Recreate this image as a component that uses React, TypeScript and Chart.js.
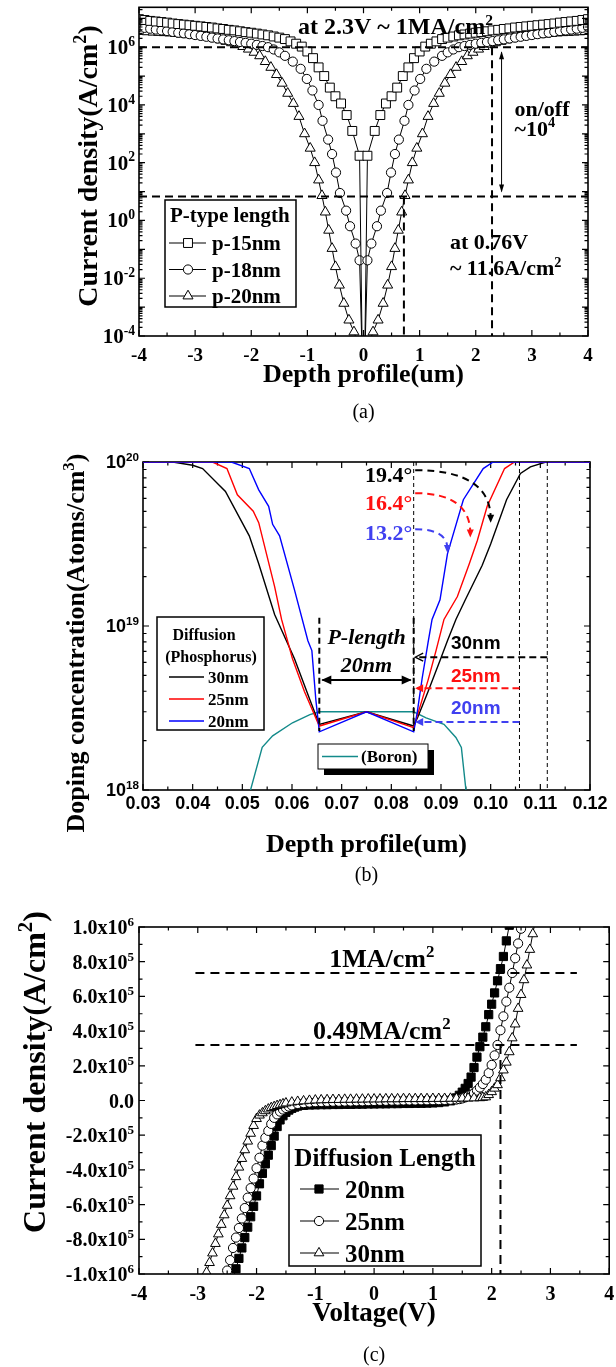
import React, { useEffect, useRef } from "react";
import { Chart, registerables } from "chart.js";

Chart.register(...registerables);

const SERIF = '"Liberation Serif", "Times New Roman", serif';
const SANS = '"Liberation Sans", Arial, sans-serif';

// ================= Panel (a): current density vs depth (symmetric profiles) =================
// positive-side depth (um) and log10(J); profile mirrored about 0
const aDepth15 = [0.02, 0.07, 0.2, 0.3, 0.4, 0.5, 0.6, 0.7, 0.8, 0.9, 1.0, 1.1, 1.2, 1.3, 1.4, 1.5, 1.6, 1.7, 1.8, 1.9, 2.0, 2.1, 2.2, 2.3, 2.4, 2.5, 2.6, 2.7, 2.8, 2.9, 3.0, 3.1, 3.2, 3.3, 3.4, 3.5, 3.6, 3.7, 3.8, 3.9, 4.0];
const aLog15 = [-5, 2.24, 3.1, 3.65, 4.05, 4.3, 4.6, 5.0, 5.3, 5.62, 5.85, 6.02, 6.12, 6.2, 6.28, 6.33, 6.37, 6.41, 6.44, 6.47, 6.5, 6.52, 6.55, 6.58, 6.6, 6.63, 6.65, 6.68, 6.7, 6.72, 6.74, 6.76, 6.78, 6.8, 6.82, 6.85, 6.87, 6.89, 6.91, 6.94, 6.97];
const aDepth18 = [0.02, 0.07, 0.14, 0.24, 0.31, 0.42, 0.49, 0.56, 0.63, 0.73, 0.8, 0.91, 1.01, 1.12, 1.26, 1.4, 1.5, 1.6, 1.7, 1.8, 1.9, 2.0, 2.1, 2.2, 2.3, 2.4, 2.5, 2.6, 2.7, 2.8, 2.9, 3.0, 3.1, 3.2, 3.3, 3.4, 3.5, 3.6, 3.7, 3.8, 3.9, 4.0];
const aLog18 = [-5, -1.38, -0.8, -0.2, 0.34, 0.95, 1.66, 2.3, 2.8, 3.45, 4.0, 4.5, 4.9, 5.25, 5.5, 5.7, 5.82, 5.92, 6.0, 6.04, 6.08, 6.12, 6.15, 6.18, 6.21, 6.24, 6.27, 6.3, 6.33, 6.36, 6.39, 6.42, 6.45, 6.48, 6.5, 6.53, 6.56, 6.58, 6.61, 6.64, 6.67, 6.7];
const aDepth20 = [0.02, 0.09, 0.17, 0.26, 0.35, 0.43, 0.5, 0.56, 0.62, 0.68, 0.74, 0.8, 0.87, 0.95, 1.05, 1.15, 1.25, 1.35, 1.45, 1.55, 1.65, 1.75, 1.85, 1.95, 2.05, 2.15, 2.25, 2.35, 2.45, 2.55, 2.65, 2.75, 2.85, 2.95, 3.05, 3.15, 3.25, 3.35, 3.45, 3.55, 3.65, 3.75, 3.85, 3.95];
const aLog20 = [-5, -4.3, -3.86, -3.45, -2.87, -2.24, -1.6, -0.97, -0.34, 0.29, 0.86, 1.4, 2.0, 2.5, 3.0, 3.6, 4.05, 4.4, 4.75, 5.05, 5.3, 5.5, 5.7, 5.82, 5.93, 6.02, 6.1, 6.15, 6.2, 6.25, 6.29, 6.33, 6.36, 6.39, 6.41, 6.43, 6.45, 6.47, 6.49, 6.5, 6.51, 6.52, 6.53, 6.54];
const aLabels = ["p-15nm", "p-18nm", "p-20nm"];
const aXTicks = [-4, -3, -2, -1, 0, 1, 2, 3, 4];
const aXMinor = [-3.5, -2.5, -1.5, -0.5, 0.5, 1.5, 2.5, 3.5];
const aYLabelExps = [-4, -2, 0, 2, 4, 6];
// annotation anchors (data units)
const aOnLog = 6;
const aOffLog = 0.83;
const aOnDepth = 2.29;
const aOffDepth = 0.72;
const aArrowDepth = 2.46;

// ================= Panel (b): doping profiles =================
const bX30 = [0.03, 0.036, 0.04, 0.042, 0.0466, 0.0514, 0.0533, 0.0565, 0.0605, 0.0636, 0.0655, 0.075, 0.0845, 0.0854, 0.0874, 0.0898, 0.0913, 0.093, 0.0949, 0.0983, 0.1, 0.1032, 0.106, 0.108, 0.1111, 0.12];
const bLog30 = [20, 20, 19.98, 19.96, 19.82, 19.55, 19.38, 19.07, 18.8, 18.55, 18.4, 18.477, 18.39, 18.45, 18.6, 18.79, 18.91, 19.04, 19.16, 19.37, 19.5, 19.77, 19.93, 19.97, 20, 20];
const bX25 = [0.03, 0.044, 0.0469, 0.049, 0.0522, 0.0533, 0.0565, 0.0579, 0.0601, 0.0625, 0.0655, 0.075, 0.0845, 0.0854, 0.0874, 0.089, 0.0906, 0.0933, 0.0957, 0.0973, 0.0993, 0.1028, 0.1048, 0.12];
const bLog25 = [20, 20, 19.96, 19.8, 19.7, 19.63, 19.24, 19.04, 18.8, 18.6, 18.39, 18.477, 18.38, 18.47, 18.67, 18.85, 19.04, 19.18, 19.38, 19.52, 19.73, 19.96, 20, 20];
const bX20 = [0.03, 0.0478, 0.0514, 0.0533, 0.0553, 0.0561, 0.0575, 0.0605, 0.0632, 0.064, 0.0648, 0.0655, 0.075, 0.0845, 0.0852, 0.0862, 0.0874, 0.0882, 0.0898, 0.0913, 0.0945, 0.0985, 0.1005, 0.12];
const bLog20 = [20, 20, 19.96, 19.83, 19.73, 19.62, 19.55, 19.22, 18.91, 18.85, 18.55, 18.355, 18.477, 18.355, 18.47, 18.68, 18.9, 19.04, 19.16, 19.44, 19.77, 19.96, 20, 20];
const bXBoron = [0.0512, 0.054, 0.0561, 0.0601, 0.0636, 0.0655, 0.0845, 0.087, 0.0906, 0.093, 0.0941, 0.0952];
const bLogBoron = [17.95, 18.26, 18.33, 18.41, 18.46, 18.477, 18.477, 18.44, 18.4, 18.32, 18.26, 17.95];
const bLabels = ["30nm", "25nm", "20nm"];
const bColors = ["#000000", "#ff0000", "#0000ff"];
const bXTicks = [0.03, 0.04, 0.05, 0.06, 0.07, 0.08, 0.09, 0.1, 0.11, 0.12];
const bXMinor = [0.035, 0.045, 0.055, 0.065, 0.075, 0.085, 0.095, 0.105, 0.115];
const bYLabelExps = [18, 19, 20];
const bPLeft = 0.0655;
const bPRight = 0.0845;
const bGuideX = [0.1058, 0.1114];
const bAngleText = ["19.4°", "16.4°", "13.2°"];
const bAngleColors = ["#000000", "#ff1010", "#4040f0"];
const bAngleTextLog = [19.92, 19.75, 19.57];
const bArcStartLog = [19.95, 19.81, 19.59];
const bArcEndX = [0.1, 0.0959, 0.0913];
const bArcEndLog = [19.63, 19.54, 19.445];
const bDiffFromX = [0.1114, 0.1058, 0.1058];
const bDiffLog = [18.81, 18.62, 18.415];
const bDiffTextLog = [18.9, 18.7, 18.506];

// ================= Panel (c): J-V curves (J in units of 1e5 A/cm^2) =================
const cV20 = [-2.4, -2.35, -2.3, -2.25, -2.2, -2.15, -2.1, -2.05, -2.0, -1.95, -1.9, -1.85, -1.8, -1.75, -1.7, -1.65, -1.6, -1.55, -1.5, -1.45, -1.4, -1.35, -1.3, -1.2, -1.1, -1.0, -0.9, -0.8, -0.7, -0.6, -0.5, -0.4, -0.3, -0.2, -0.1, 0, 0.1, 0.2, 0.3, 0.4, 0.5, 0.6, 0.7, 0.8, 0.9, 1.0, 1.1, 1.2, 1.3, 1.35, 1.4, 1.45, 1.5, 1.55, 1.6, 1.65, 1.7, 1.75, 1.8, 1.85, 1.9, 1.95, 2.0, 2.05, 2.1, 2.15, 2.2, 2.25, 2.3];
const cJ20 = [-10.3, -9.7, -9.1, -8.5, -7.9, -7.3, -6.7, -6.1, -5.5, -4.8, -4.2, -3.65, -3.15, -2.6, -2.05, -1.5, -1.12, -0.88, -0.68, -0.55, -0.45, -0.38, -0.32, -0.28, -0.26, -0.25, -0.24, -0.24, -0.23, -0.23, -0.22, -0.22, -0.21, -0.21, -0.2, -0.2, -0.19, -0.19, -0.18, -0.18, -0.17, -0.17, -0.16, -0.16, -0.15, -0.14, -0.12, -0.08, -0.02, 0.05, 0.15, 0.3, 0.48, 0.7, 0.98, 1.35, 1.9, 2.5, 3.1, 3.65, 4.25, 4.95, 5.55, 6.2, 6.9, 7.6, 8.3, 9.2, 10.1];
const cV25 = [-2.55, -2.5, -2.45, -2.4, -2.35, -2.3, -2.25, -2.2, -2.15, -2.1, -2.05, -2.0, -1.95, -1.9, -1.85, -1.8, -1.75, -1.7, -1.65, -1.6, -1.55, -1.5, -1.45, -1.4, -1.3, -1.2, -1.1, -1.0, -0.9, -0.8, -0.7, -0.6, -0.5, -0.4, -0.3, -0.2, -0.1, 0, 0.1, 0.2, 0.3, 0.4, 0.5, 0.6, 0.7, 0.8, 0.9, 1.0, 1.1, 1.2, 1.3, 1.4, 1.45, 1.5, 1.55, 1.6, 1.65, 1.7, 1.75, 1.8, 1.85, 1.9, 1.95, 2.0, 2.05, 2.1, 2.15, 2.2, 2.25, 2.3, 2.35, 2.4, 2.45, 2.5, 2.55];
const cJ25 = [-10.4, -9.8, -9.2, -8.5, -7.9, -7.35, -6.8, -6.2, -5.6, -5.05, -4.5, -3.9, -3.3, -2.6, -2.15, -1.75, -1.35, -1.0, -0.8, -0.64, -0.52, -0.43, -0.35, -0.28, -0.2, -0.15, -0.12, -0.1, -0.09, -0.08, -0.07, -0.07, -0.06, -0.06, -0.05, -0.05, -0.04, -0.03, -0.02, -0.02, -0.01, -0.01, 0, 0, 0, 0.01, 0.01, 0.02, 0.02, 0.03, 0.04, 0.06, 0.08, 0.12, 0.18, 0.25, 0.33, 0.43, 0.57, 0.75, 0.95, 1.2, 1.58, 2.05, 2.6, 3.2, 4.05, 4.85, 5.7, 6.5, 7.35, 8.2, 9.05, 9.9, 10.7];
const cV30 = [-2.9, -2.85, -2.8, -2.75, -2.7, -2.65, -2.6, -2.55, -2.5, -2.45, -2.4, -2.35, -2.3, -2.25, -2.2, -2.15, -2.1, -2.05, -2.0, -1.95, -1.9, -1.85, -1.8, -1.75, -1.7, -1.65, -1.6, -1.55, -1.5, -1.4, -1.3, -1.2, -1.1, -1.0, -0.9, -0.8, -0.7, -0.6, -0.5, -0.4, -0.3, -0.2, -0.1, 0, 0.1, 0.2, 0.3, 0.4, 0.5, 0.6, 0.7, 0.8, 0.9, 1.0, 1.1, 1.2, 1.3, 1.4, 1.5, 1.6, 1.7, 1.8, 1.85, 1.9, 1.95, 2.0, 2.05, 2.1, 2.15, 2.2, 2.25, 2.3, 2.35, 2.4, 2.45, 2.5, 2.55, 2.6, 2.65, 2.7, 2.75];
const cJ30 = [-10.45, -9.9, -9.35, -8.8, -8.25, -7.7, -7.15, -6.6, -6.05, -5.5, -4.95, -4.4, -3.85, -3.35, -2.85, -2.35, -1.9, -1.45, -1.05, -0.85, -0.72, -0.6, -0.5, -0.42, -0.36, -0.3, -0.25, -0.2, -0.15, -0.1, -0.06, -0.03, 0, 0.02, 0.03, 0.04, 0.05, 0.05, 0.06, 0.06, 0.07, 0.07, 0.08, 0.08, 0.08, 0.09, 0.09, 0.09, 0.1, 0.1, 0.1, 0.1, 0.1, 0.11, 0.11, 0.11, 0.12, 0.12, 0.13, 0.13, 0.14, 0.15, 0.17, 0.2, 0.33, 0.5, 0.7, 0.9, 1.3, 1.75, 2.2, 2.8, 3.6, 4.4, 5.3, 6.1, 6.95, 7.8, 8.7, 9.6, 10.5];
const cLabels = ["20nm", "25nm", "30nm"];
const cXTicks = [-4, -3, -2, -1, 0, 1, 2, 3, 4];
const cXMinor = [-3.5, -2.5, -1.5, -0.5, 0.5, 1.5, 2.5, 3.5];
const cYTickValues = [1e6, 8e5, 6e5, 4e5, 2e5, 0, -2e5, -4e5, -6e5, -8e5, -1e6];
const cYTickMantissa = ["1.0", "8.0", "6.0", "4.0", "2.0", "0.0", "-2.0", "-4.0", "-6.0", "-8.0", "-1.0"];
const cYTickExp = ["6", "5", "5", "5", "5", "", "5", "5", "5", "5", "6"];
const cYMinor = [9e5, 7e5, 5e5, 3e5, 1e5, -1e5, -3e5, -5e5, -7e5, -9e5];
const cLine1MA = 7.35e5;
const cLine049MA = 3.2e5;
const cLineFromV = -3.04;
const cLineToV = 3.45;
const cVertV = 2.15;

// ================= helpers =================
const mirrorLog = (d: number[], lg: number[]) => {
  const pts: any[] = [];
  for (let i = d.length - 1; i >= 0; i--) pts.push({ x: -d[i], y: Math.pow(10, lg[i]) });
  for (let i = 0; i < d.length; i++) pts.push({ x: d[i], y: Math.pow(10, lg[i]) });
  return pts;
};
const logPts = (xs: number[], lg: number[]) => xs.map((x, i) => ({ x, y: Math.pow(10, lg[i]) }));
const linPts = (xs: number[], js: number[]) => xs.map((x, i) => ({ x, y: js[i] * 1e5 }));

const logMinors = (lo: number, hi: number) => {
  const r: number[] = [];
  for (let n = lo; n <= hi; n++) for (let k = 2; k <= 9; k++) r.push(k * Math.pow(10, n));
  return r;
};
const decades = (lo: number, hi: number) => {
  const r: number[] = [];
  for (let n = lo; n <= hi; n++) r.push(Math.pow(10, n));
  return r;
};

type Part = { t: string; sup?: boolean };
const fnt = (size: number, family: string, weight = "bold", style = "normal") => `${style} ${weight} ${size}px ${family}`;

function rich(ctx: any, parts: Part[], x: number, y: number, size: number, family: string, align = "left", color = "#000", weight = "bold", style = "normal") {
  let w = 0;
  for (const p of parts) {
    ctx.font = fnt(p.sup ? size * 0.65 : size, family, weight, style);
    w += ctx.measureText(p.t).width;
  }
  let cx = align === "left" ? x : align === "center" ? x - w / 2 : x - w;
  ctx.save();
  ctx.fillStyle = color;
  ctx.textAlign = "left";
  ctx.textBaseline = "alphabetic";
  for (const p of parts) {
    ctx.font = fnt(p.sup ? size * 0.65 : size, family, weight, style);
    ctx.fillText(p.t, cx, p.sup ? y - size * 0.4 : y);
    cx += ctx.measureText(p.t).width;
  }
  ctx.restore();
}

function seg(ctx: any, x1: number, y1: number, x2: number, y2: number, w = 1, dash: number[] = [], color = "#000") {
  ctx.save();
  ctx.beginPath();
  ctx.setLineDash(dash);
  ctx.lineWidth = w;
  ctx.strokeStyle = color;
  ctx.moveTo(x1, y1);
  ctx.lineTo(x2, y2);
  ctx.stroke();
  ctx.restore();
}

function head(ctx: any, x: number, y: number, ang: number, len: number, half: number, color = "#000", filled = true) {
  const bx = x - Math.cos(ang) * len;
  const by = y - Math.sin(ang) * len;
  const px = -Math.sin(ang) * half;
  const py = Math.cos(ang) * half;
  ctx.save();
  ctx.setLineDash([]);
  ctx.beginPath();
  ctx.moveTo(bx + px, by + py);
  ctx.lineTo(x, y);
  ctx.lineTo(bx - px, by - py);
  if (filled) {
    ctx.closePath();
    ctx.fillStyle = color;
    ctx.fill();
  } else {
    ctx.strokeStyle = color;
    ctx.lineWidth = 1.3;
    ctx.stroke();
  }
  ctx.restore();
}

function marker(ctx: any, style: string, x: number, y: number, r: number, fill: string) {
  ctx.save();
  ctx.setLineDash([]);
  ctx.beginPath();
  ctx.lineWidth = 1;
  ctx.strokeStyle = "#000";
  ctx.fillStyle = fill;
  if (style === "rect") {
    const s = r * Math.SQRT1_2;
    ctx.rect(x - s, y - s, 2 * s, 2 * s);
  } else if (style === "circle") {
    ctx.arc(x, y, r, 0, Math.PI * 2);
  } else {
    for (let k = 0; k < 3; k++) {
      const a = (k * 2 * Math.PI) / 3;
      const px = x + Math.sin(a) * r;
      const py = y - Math.cos(a) * r;
      if (k) ctx.lineTo(px, py);
      else ctx.moveTo(px, py);
    }
    ctx.closePath();
  }
  ctx.fill();
  ctx.stroke();
  ctx.restore();
}

function frame(chart: any, xMaj: number[], xMin: number[], yMaj: number[], yMin: number[]) {
  const { ctx, chartArea: a } = chart;
  const xs = chart.scales.x;
  const ys = chart.scales.y;
  ctx.save();
  ctx.setLineDash([]);
  ctx.strokeStyle = "#000";
  ctx.lineWidth = 1.2;
  ctx.beginPath();
  const xt = (v: number, L: number) => {
    if (v < xs.min || v > xs.max) return;
    const p = xs.getPixelForValue(v);
    ctx.moveTo(p, a.bottom);
    ctx.lineTo(p, a.bottom - L);
    ctx.moveTo(p, a.top);
    ctx.lineTo(p, a.top + L);
  };
  const yt = (v: number, L: number) => {
    if (v < ys.min || v > ys.max) return;
    const p = ys.getPixelForValue(v);
    ctx.moveTo(a.left, p);
    ctx.lineTo(a.left + L, p);
    ctx.moveTo(a.right, p);
    ctx.lineTo(a.right - L, p);
  };
  xMaj.forEach((v) => xt(v, 6));
  xMin.forEach((v) => xt(v, 3.5));
  yMaj.forEach((v) => yt(v, 6));
  yMin.forEach((v) => yt(v, 3.5));
  ctx.stroke();
  ctx.lineWidth = 1.6;
  ctx.strokeRect(a.left, a.top, a.right - a.left, a.bottom - a.top);
  ctx.restore();
}

function rotTitle(ctx: any, parts: Part[], bx: number, cy: number, size: number, family: string) {
  ctx.save();
  ctx.translate(bx, cy);
  ctx.rotate(-Math.PI / 2);
  rich(ctx, parts, 0, 0, size, family, "center");
  ctx.restore();
}

const baseOptions = (padding: any, x: any, y: any) => ({
  responsive: false,
  animation: false,
  devicePixelRatio: 1,
  events: [],
  layout: { padding },
  plugins: { legend: { display: false }, tooltip: { enabled: false }, title: { display: false } },
  scales: { x: { ...x, display: false }, y: { ...y, display: false } },
});

// ================= panel (a) =================
const aStyles = ["rect", "circle", "triangle"];
const aRadius = [6.3, 4.6, 5.8];

const panelAPlugin = {
  id: "panelA",
  afterDraw(chart: any) {
    const { ctx, chartArea: a } = chart;
    const X = (v: number) => chart.scales.x.getPixelForValue(v);
    const Y = (v: number) => chart.scales.y.getPixelForValue(v);
    frame(chart, aXTicks, aXMinor, decades(-4, 7), logMinors(-4, 7));
    const dash = [8, 5];
    const yOn = Y(Math.pow(10, aOnLog));
    const yOff = Y(Math.pow(10, aOffLog));
    seg(ctx, a.left, yOn, a.right, yOn, 2, dash);
    seg(ctx, a.left, yOff, a.right, yOff, 2, dash);
    seg(ctx, X(aOnDepth), yOn, X(aOnDepth), a.bottom, 2, dash);
    seg(ctx, X(aOffDepth), yOff, X(aOffDepth), a.bottom, 2, dash);
    const ax = X(aArrowDepth);
    seg(ctx, ax, yOn + 5, ax, yOff - 5, 1);
    head(ctx, ax, yOn + 4, -Math.PI / 2, 8, 2.5);
    head(ctx, ax, yOff - 4, Math.PI / 2, 8, 2.5);

    rich(ctx, [{ t: "at 2.3V ~ 1MA/cm" }, { t: "2", sup: true }], X(0.57), Y(Math.pow(10, 6.72)) + 8, 24, SERIF, "center");
    rich(ctx, [{ t: "on/off" }], X(2.69), Y(Math.pow(10, 3.86)) + 7, 22, SERIF, "left");
    rich(ctx, [{ t: "~10" }, { t: "4", sup: true }], X(2.69), Y(Math.pow(10, 3.17)) + 7, 22, SERIF, "left");
    rich(ctx, [{ t: "at 0.76V" }], X(1.54), Y(Math.pow(10, -0.76)) + 7, 22, SERIF, "left");
    rich(ctx, [{ t: "~ 11.6A/cm" }, { t: "2", sup: true }], X(1.54), Y(Math.pow(10, -1.66)) + 7, 22, SERIF, "left");

    // tick labels
    aXTicks.forEach((v) => rich(ctx, [{ t: String(v) }], X(v), a.bottom + 25, 19, SERIF, "center"));
    aYLabelExps.forEach((e) => rich(ctx, [{ t: "10" }, { t: String(e), sup: true }], a.left - 4, Y(Math.pow(10, e)) + 7, 21, SERIF, "right"));
    rich(ctx, [{ t: "Depth profile(um)" }], (a.left + a.right) / 2, 382, 26, SERIF, "center");
    rotTitle(ctx, [{ t: "Current density(A/cm" }, { t: "2", sup: true }, { t: ")" }], 97, 166, 28, SERIF);
    rich(ctx, [{ t: "(a)" }], (a.left + a.right) / 2, 418, 20, SERIF, "center", "#000", "normal");

    // legend
    ctx.save();
    ctx.fillStyle = "#fff";
    ctx.fillRect(165, 200, 131, 107);
    ctx.lineWidth = 1.5;
    ctx.strokeStyle = "#000";
    ctx.strokeRect(165, 200, 131, 107);
    ctx.restore();
    rich(ctx, [{ t: "P-type length" }], 170, 222, 21, SERIF, "left");
    aLabels.forEach((lab, i) => {
      const yc = 243 + i * 26.5;
      seg(ctx, 169, yc, 206, yc, 1.2);
      marker(ctx, aStyles[i], 188, yc, aRadius[i], "#fff");
      rich(ctx, [{ t: lab }], 212, yc + 7, 21, SERIF, "left");
    });
  },
};

function configA(): any {
  const series = [
    mirrorLog(aDepth15, aLog15),
    mirrorLog(aDepth18, aLog18),
    mirrorLog(aDepth20, aLog20),
  ];
  return {
    type: "scatter",
    data: {
      datasets: series.map((d, i) => ({
        label: aLabels[i],
        data: d,
        showLine: true,
        borderColor: "#000",
        borderWidth: 1,
        pointStyle: aStyles[i],
        pointRadius: aRadius[i],
        pointBackgroundColor: "#fff",
        pointBorderColor: "#000",
        pointBorderWidth: 1,
      })),
    },
    options: baseOptions({ left: 139, right: 28, top: 6, bottom: 94 }, { type: "linear", min: -4, max: 4 }, { type: "logarithmic", min: 1e-4, max: 2.4e7 }),
    plugins: [panelAPlugin],
  };
}

// ================= panel (b) =================
const panelBPlugin = {
  id: "panelB",
  beforeDatasetsDraw(chart: any) {
    frame(chart, bXTicks, bXMinor, decades(18, 20), logMinors(18, 19));
  },
  afterDraw(chart: any) {
    const { ctx, chartArea: a } = chart;
    const X = (v: number) => chart.scales.x.getPixelForValue(v);
    const Y = (lg: number) => chart.scales.y.getPixelForValue(Math.pow(10, lg));
    const thin = [4, 3];
    seg(ctx, X(bPRight), a.top, X(bPRight), Y(18.37), 1, thin);
    bGuideX.forEach((gx) => seg(ctx, X(gx), a.top, X(gx), a.bottom, 1, thin));
    // P-length markers
    seg(ctx, X(bPLeft), Y(19.05), X(bPLeft), Y(18.36), 2, [6, 4]);
    seg(ctx, X(bPRight), Y(19.05), X(bPRight), Y(18.36), 2, [6, 4]);
    const py = Y(18.67);
    seg(ctx, X(bPLeft) + 3, py, X(bPRight) - 3, py, 2);
    head(ctx, X(bPLeft) + 2, py, Math.PI, 10, 4.5);
    head(ctx, X(bPRight) - 2, py, 0, 10, 4.5);
    rich(ctx, [{ t: "P-length" }], X(0.075), Y(18.93) + 7, 22, SERIF, "center", "#000", "bold", "italic");
    rich(ctx, [{ t: "20nm" }], X(0.075), Y(18.76) + 7, 22, SERIF, "center", "#000", "bold", "italic");
    // diffusion-length arrows
    bLabels.forEach((lab, i) => {
      const y = Y(bDiffLog[i]);
      seg(ctx, X(bDiffFromX[i]), y, X(0.0848) + 2, y, 2, [7, 4], bAngleColors[i]);
      head(ctx, X(0.0848), y, Math.PI, 8, 4, bAngleColors[i], i > 0);
      rich(ctx, [{ t: lab }], X(0.097), Y(bDiffTextLog[i]) + 7, 19, SANS, "center", bAngleColors[i]);
    });
    // angle labels and arcs
    bAngleText.forEach((t, i) => {
      rich(ctx, [{ t }], X(0.0842), Y(bAngleTextLog[i]) + 7, 22, SERIF, "right", bAngleColors[i]);
      const sx = X(0.0848);
      const sy = Y(bArcStartLog[i]);
      const ex = X(bArcEndX[i]);
      const ey = Y(bArcEndLog[i]);
      ctx.save();
      ctx.beginPath();
      ctx.setLineDash([7, 5]);
      ctx.lineWidth = 2;
      ctx.strokeStyle = bAngleColors[i];
      ctx.moveTo(sx, sy);
      ctx.quadraticCurveTo(ex, sy, ex, ey - 4);
      ctx.stroke();
      ctx.restore();
      head(ctx, ex, ey, Math.PI / 2, 8, 3.5, bAngleColors[i]);
    });
    // tick labels & titles
    bXTicks.forEach((v) => rich(ctx, [{ t: v.toFixed(2) }], X(v), a.bottom + 19, 18, SANS, "center"));
    bYLabelExps.forEach((e) => rich(ctx, [{ t: "10" }, { t: String(e), sup: true }], a.left - 4, Y(e) + 6, 18, SANS, "right"));
    rich(ctx, [{ t: "Depth profile(um)" }], (a.left + a.right) / 2, 422, 26, SERIF, "center");
    rotTitle(ctx, [{ t: "Doping concentration(Atoms/cm" }, { t: "3", sup: true }, { t: ")" }], 84, 213, 26, SERIF);
    rich(ctx, [{ t: "(b)" }], (a.left + a.right) / 2, 451, 20, SERIF, "center", "#000", "normal");
    // legend (phosphorus)
    ctx.save();
    ctx.fillStyle = "#fff";
    ctx.fillRect(157, 187, 107, 113);
    ctx.lineWidth = 1.5;
    ctx.strokeStyle = "#000";
    ctx.strokeRect(157, 187, 107, 113);
    ctx.restore();
    rich(ctx, [{ t: "Diffusion" }], 204, 210, 16, SERIF, "center");
    rich(ctx, [{ t: "(Phosphorus)" }], 211, 232, 16, SERIF, "center");
    bLabels.forEach((lab, i) => {
      const yc = 247 + i * 22;
      seg(ctx, 169, yc, 204, yc, 1.5, [], bColors[i]);
      rich(ctx, [{ t: lab }], 208, yc + 6, 17, SERIF, "left");
    });
    // legend (boron) with shadow
    ctx.save();
    ctx.fillStyle = "#000";
    ctx.fillRect(324, 320, 110, 25);
    ctx.fillStyle = "#fff";
    ctx.fillRect(318, 314, 110, 25);
    ctx.lineWidth = 1;
    ctx.strokeStyle = "#000";
    ctx.strokeRect(318, 314, 110, 25);
    ctx.restore();
    seg(ctx, 322, 326.5, 358, 326.5, 1.5, [], "#138a8a");
    rich(ctx, [{ t: "(Boron)" }], 361, 332, 17, SERIF, "left");
  },
};

function configB(): any {
  const defs = [
    { d: logPts(bX20, bLog20), c: bColors[2], l: bLabels[2] },
    { d: logPts(bX25, bLog25), c: bColors[1], l: bLabels[1] },
    { d: logPts(bX30, bLog30), c: bColors[0], l: bLabels[0] },
    { d: logPts(bXBoron, bLogBoron), c: "#138a8a", l: "(Boron)" },
  ];
  return {
    type: "scatter",
    data: {
      datasets: defs.map((s) => ({
        label: s.l,
        data: s.d,
        showLine: true,
        borderColor: s.c,
        borderWidth: 1.4,
        pointRadius: 0,
      })),
    },
    options: baseOptions({ left: 143, right: 26, top: 32, bottom: 100 }, { type: "linear", min: 0.03, max: 0.12 }, { type: "logarithmic", min: 1e18, max: 1e20 }),
    plugins: [panelBPlugin],
  };
}

// ================= panel (c) =================
const cStyles = ["rect", "circle", "triangle"];
const cRadius = [5.8, 4.6, 5.6];
const cFill = ["#000", "#fff", "#fff"];

const panelCPlugin = {
  id: "panelC",
  afterDraw(chart: any) {
    const { ctx, chartArea: a } = chart;
    const X = (v: number) => chart.scales.x.getPixelForValue(v);
    const Y = (v: number) => chart.scales.y.getPixelForValue(v);
    frame(chart, cXTicks, cXMinor, cYTickValues, cYMinor);
    const dash = [9, 6];
    seg(ctx, X(cLineFromV), Y(cLine1MA), X(cLineToV), Y(cLine1MA), 2, dash);
    seg(ctx, X(cLineFromV), Y(cLine049MA), X(cLineToV), Y(cLine049MA), 2, dash);
    seg(ctx, X(cVertV), Y(cLine049MA), X(cVertV), a.bottom, 2, dash);
    rich(ctx, [{ t: "1MA/cm" }, { t: "2", sup: true }], X(0.13), Y(8.2e5) + 9, 26, SERIF, "center");
    rich(ctx, [{ t: "0.49MA/cm" }, { t: "2", sup: true }], X(0.13), Y(4.06e5) + 9, 26, SERIF, "center");

    cXTicks.forEach((v) => rich(ctx, [{ t: String(v) }], X(v), a.bottom + 26, 20, SERIF, "center"));
    cYTickValues.forEach((v, i) => {
      const parts: Part[] = cYTickExp[i] ? [{ t: cYTickMantissa[i] + "x10" }, { t: cYTickExp[i], sup: true }] : [{ t: cYTickMantissa[i] }];
      rich(ctx, parts, a.left - 5, Y(v) + 7, 20, SERIF, "right");
    });
    rich(ctx, [{ t: "Voltage(V)" }], (a.left + a.right) / 2, 431, 27, SERIF, "center");
    rotTitle(ctx, [{ t: "Current density(A/cm" }, { t: "2", sup: true }, { t: ")" }], 45, 182, 32, SERIF);
    rich(ctx, [{ t: "(c)" }], (a.left + a.right) / 2, 471, 20, SERIF, "center", "#000", "normal");

    // legend
    ctx.save();
    ctx.fillStyle = "#fff";
    ctx.fillRect(289, 245, 192, 131);
    ctx.lineWidth = 1.5;
    ctx.strokeStyle = "#000";
    ctx.strokeRect(289, 245, 192, 131);
    ctx.restore();
    rich(ctx, [{ t: "Diffusion Length" }], 385, 276, 25, SERIF, "center");
    cLabels.forEach((lab, i) => {
      const yc = 299 + i * 32;
      seg(ctx, 300, yc, 339, yc, 1.2);
      marker(ctx, cStyles[i], 319, yc, cRadius[i], cFill[i]);
      rich(ctx, [{ t: lab }], 345, yc + 9, 25, SERIF, "left");
    });
  },
};

function configC(): any {
  const defs = [
    { d: linPts(cV30, cJ30), i: 2 },
    { d: linPts(cV25, cJ25), i: 1 },
    { d: linPts(cV20, cJ20), i: 0 },
  ];
  return {
    type: "scatter",
    data: {
      datasets: defs.map((s) => ({
        label: cLabels[s.i],
        data: s.d,
        showLine: true,
        borderColor: "#000",
        borderWidth: 1,
        pointStyle: cStyles[s.i],
        pointRadius: cRadius[s.i],
        pointBackgroundColor: cFill[s.i],
        pointBorderColor: "#000",
        pointBorderWidth: 1,
      })),
    },
    options: baseOptions({ left: 139, right: 2, top: 37, bottom: 93 }, { type: "linear", min: -4, max: 4 }, { type: "linear", min: -1e6, max: 1e6 }),
    plugins: [panelCPlugin],
  };
}

// ================= React =================
function Panel({ top, height, build }: { top: number; height: number; build: () => any }) {
  const ref = useRef<HTMLCanvasElement | null>(null);
  useEffect(() => {
    if (!ref.current) return;
    const chart = new Chart(ref.current, build());
    return () => chart.destroy();
  }, []);
  return <canvas ref={ref} width={616} height={height} style={{ position: "absolute", left: 0, top, width: 616, height }} />;
}

export default function App() {
  return (
    <div style={{ position: "absolute", left: 0, top: 0, width: 616, height: 1367, overflow: "hidden", background: "#fff" }}>
      <Panel top={0} height={430} build={configA} />
      <Panel top={430} height={460} build={configB} />
      <Panel top={890} height={477} build={configC} />
    </div>
  );
}
